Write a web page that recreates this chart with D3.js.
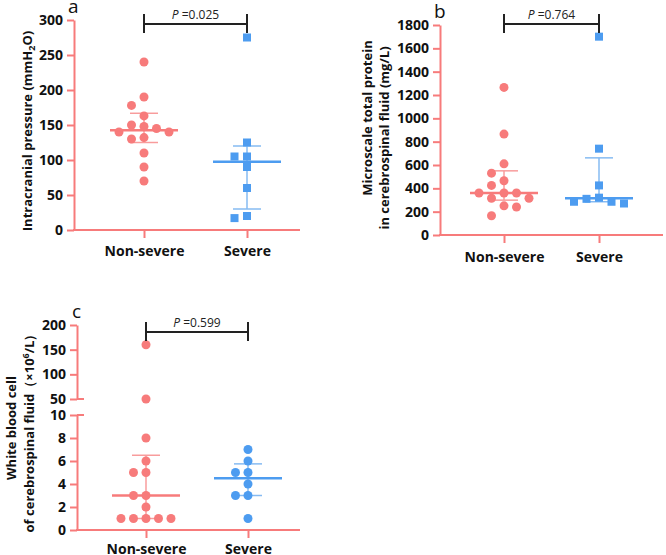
<!DOCTYPE html>
<html>
<head>
<meta charset="utf-8">
<script src="https://cdn.jsdelivr.net/npm/d3@7"></script>
<style>
  body { margin: 0; background: #fff; }
  text { font-family: "Open Sans", "Noto Sans", sans-serif; }
</style>
</head>
<body>
<div id="container"></div>
<script>
/* DATA */
const groups = ["Non-severe", "Severe"];

// a: intracranial pressure (mmH2O)
const icpNonSevere = [240, 190, 178, 163, 150, 148, 145, 140, 140, 132, 130, 110, 90, 70];
const icpSevere = [275, 125, 105, 105, 90, 60, 20, 17];
const icpTicks = [0, 50, 100, 150, 200, 250, 300];

// b: microscale total protein in CSF (mg/L)
const proteinNonSevere = [1265, 865, 610, 530, 465, 425, 360, 360, 360, 315, 315, 250, 240, 165];
const proteinSevere = [1700, 740, 425, 320, 310, 285, 285, 270];
const proteinTicks = [0, 200, 400, 600, 800, 1000, 1200, 1400, 1600, 1800];

// c: white blood cell of CSF (x10^6/L), broken axis
const wbcNonSevere = [160, 50, 8, 6, 5, 5, 3, 3, 2, 1, 1, 1, 1, 1];
const wbcSevere = [7, 6, 5, 5, 4, 3, 3, 1];
const wbcTicksLow = [0, 2, 4, 6, 8, 10];
const wbcTicksHigh = [50, 100, 150, 200];

const pValues = ["0.025", "0.764", "0.599"];

/* STYLE */
const pink = "#f77b7b", pinkLight = "#f89c9c";
const blue = "#4d9cf0", blueLight = "#86bbf2";

const svg = d3.select("#container").append("svg")
  .attr("width", 666)
  .attr("height", 555);

// GraphPad style quartiles ((n+1)p)
function quart(values, p) {
  const s = values.slice().sort((a, b) => a - b);
  const pos = (s.length + 1) * p - 1;
  const lo = Math.floor(pos), hi = Math.ceil(pos);
  return s[lo] + (s[hi] - s[lo]) * (pos - lo);
}

// simple column scatter layout
function swarm(values, yFn) {
  const step = 12.5, minDist = 10;
  const placed = [];
  values.slice().sort((a, b) => b - a).forEach(v => {
    const y = yFn(v);
    for (let k = 0; k < 12; k++) {
      const off = k === 0 ? 0 : (k % 2 ? -1 : 1) * Math.ceil(k / 2) * step;
      const hit = placed.some(p => Math.hypot(p.dx - off, p.y - y) < minDist);
      if (!hit) { placed.push({ v, y, dx: off }); break; }
    }
  });
  return placed;
}

function styleAxis(g) {
  g.select(".domain").attr("stroke", pink).attr("stroke-width", 2);
  g.selectAll(".tick line").attr("stroke", pink).attr("stroke-width", 2);
  g.selectAll(".tick text")
    .attr("fill", "#111")
    .attr("font-size", 14)
    .attr("font-weight", "bold");
}

function drawPanel(cfg) {
  const g = svg.append("g");
  const xScale = d3.scalePoint().domain(groups).range(cfg.catRange);

  // y axis
  cfg.yAxes.forEach(ax => {
    const ag = g.append("g")
      .attr("transform", `translate(${cfg.x0},0)`)
      .call(d3.axisLeft(ax.scale).tickValues(ax.ticks).tickFormat(d3.format("d"))
        .tickSize(7).tickSizeOuter(0).tickPadding(4))
      .call(styleAxis);
    if (ax.cap != null) {
      ag.append("line")
        .attr("x1", 0).attr("x2", 7)
        .attr("y1", ax.scale(ax.cap)).attr("y2", ax.scale(ax.cap))
        .attr("stroke", pink).attr("stroke-width", 2);
    }
  });

  // x axis
  const xg = g.append("g")
    .attr("transform", `translate(0,${cfg.yBase})`)
    .call(d3.axisBottom(xScale).tickSize(8).tickSizeOuter(0).tickPadding(cfg.labelPad))
    .call(styleAxis);
  xg.select(".domain").remove();
  xg.append("line")
    .attr("x1", cfg.x0 - 1).attr("x2", cfg.x1)
    .attr("stroke", pink).attr("stroke-width", 2);

  // groups
  const sets = [
    { name: groups[0], values: cfg.nonSevere, color: pink, light: pinkLight, shape: "circle" },
    { name: groups[1], values: cfg.severe, color: blue, light: blueLight, shape: cfg.severeShape }
  ];
  sets.forEach(s => {
    const cx = xScale(s.name);
    const med = quart(s.values, 0.5), q1 = quart(s.values, 0.25), q3 = quart(s.values, 0.75);
    const eb = g.append("g");
    eb.append("line").attr("x1", cx).attr("x2", cx)
      .attr("y1", cfg.yFn(q1)).attr("y2", cfg.yFn(q3))
      .attr("stroke", s.light).attr("stroke-width", 1.5);
    [q1, q3].forEach(q => eb.append("line")
      .attr("x1", cx - 14).attr("x2", cx + 14)
      .attr("y1", cfg.yFn(q)).attr("y2", cfg.yFn(q))
      .attr("stroke", s.light).attr("stroke-width", 1.5));

    const pts = swarm(s.values, cfg.yFn);
    if (s.shape === "circle") {
      g.selectAll(null).data(pts).join("circle")
        .attr("cx", d => cx + d.dx).attr("cy", d => d.y)
        .attr("r", 4.5).attr("fill", s.color);
    } else {
      g.selectAll(null).data(pts).join("rect")
        .attr("x", d => cx + d.dx - 4).attr("y", d => d.y - 4)
        .attr("width", 8).attr("height", 8).attr("fill", s.color);
    }
    g.append("line")
      .attr("x1", cx - 34).attr("x2", cx + 34)
      .attr("y1", cfg.yFn(med)).attr("y2", cfg.yFn(med))
      .attr("stroke", s.color).attr("stroke-width", 2.5);
  });

  // significance bracket
  const xa = xScale(groups[0]), xb = xScale(groups[1]);
  const sg = g.append("g").attr("stroke", "#222").attr("stroke-width", 2);
  sg.append("line").attr("x1", xa).attr("x2", xb).attr("y1", cfg.barY).attr("y2", cfg.barY);
  [xa, xb].forEach(x => sg.append("line")
    .attr("x1", x).attr("x2", x)
    .attr("y1", cfg.barY - 10).attr("y2", cfg.barY + 9));
  const pt = g.append("text")
    .attr("x", (xa + xb) / 2).attr("y", cfg.barY - 5)
    .attr("text-anchor", "middle").attr("font-size", 12).attr("fill", "#222");
  pt.append("tspan").attr("font-style", "italic").text("P");
  pt.append("tspan").text(" =" + cfg.p);

  // panel letter
  g.append("text")
    .attr("x", cfg.letterPos[0]).attr("y", cfg.letterPos[1])
    .attr("font-size", 19).attr("fill", "#111").text(cfg.letter);

  // y title
  cfg.title(g);
}

/* PANEL A */
const yA = d3.scaleLinear().domain([0, 300]).range([230, 20]);
drawPanel({
  x0: 74, x1: 300, yBase: 230, catRange: [144, 247], labelPad: 8,
  yFn: yA, yAxes: [{ scale: yA, ticks: icpTicks }],
  nonSevere: icpNonSevere, severe: icpSevere, severeShape: "square",
  barY: 24, p: pValues[0], letter: "a", letterPos: [68, 13],
  title: g => {
    const t = g.append("text")
      .attr("transform", "translate(27,131) rotate(-90)")
      .attr("dy", "0.35em").attr("text-anchor", "middle")
      .attr("font-size", 13).attr("font-weight", "bold").attr("fill", "#111");
    t.append("tspan").text("Intracranial pressure (mmH");
    t.append("tspan").attr("font-size", 9).attr("dy", 3).text("2");
    t.append("tspan").attr("dy", -3).text("O)");
  }
});

/* PANEL B */
const yB = d3.scaleLinear().domain([0, 1800]).range([235, 25]);
drawPanel({
  x0: 440, x1: 663, yBase: 235, catRange: [504, 599], labelPad: 9,
  yFn: yB, yAxes: [{ scale: yB, ticks: proteinTicks }],
  nonSevere: proteinNonSevere, severe: proteinSevere, severeShape: "square",
  barY: 24, p: pValues[1], letter: "b", letterPos: [434, 18],
  title: g => {
    [["Microscale total protein", 367, 118], ["in cerebrospinal fluid (mg/L)", 384, 138]].forEach(([s, x, y]) =>
      g.append("text")
        .attr("transform", `translate(${x},${y}) rotate(-90)`)
        .attr("dy", "0.35em").attr("text-anchor", "middle")
        .attr("font-size", 13).attr("font-weight", "bold").attr("fill", "#111")
        .text(s));
  }
});

/* PANEL C */
const yCLow = d3.scaleLinear().domain([0, 10]).range([530, 415]);
const yCHigh = d3.scaleLinear().domain([50, 200]).range([399, 325]);
const yC = v => v > 10 ? yCHigh(v) : yCLow(v);
drawPanel({
  x0: 77, x1: 300, yBase: 530, catRange: [146, 248], labelPad: 6,
  yFn: yC,
  yAxes: [
    { scale: yCLow, ticks: wbcTicksLow, cap: 10 },
    { scale: yCHigh, ticks: wbcTicksHigh, cap: 50 }
  ],
  nonSevere: wbcNonSevere, severe: wbcSevere, severeShape: "circle",
  barY: 332, p: pValues[2], letter: "c", letterPos: [72, 318],
  title: g => {
    g.append("text")
      .attr("transform", "translate(11,428) rotate(-90)")
      .attr("dy", "0.35em").attr("text-anchor", "middle")
      .attr("font-size", 13).attr("font-weight", "bold").attr("fill", "#111")
      .text("White blood cell");
    const t = g.append("text")
      .attr("transform", "translate(29,430) rotate(-90)")
      .attr("dy", "0.35em").attr("text-anchor", "middle")
      .attr("font-size", 13).attr("font-weight", "bold").attr("fill", "#111");
    t.append("tspan").text("of cerebrospinal fluid（×10");
    t.append("tspan").attr("font-size", 9).attr("dy", -5).text("6");
    t.append("tspan").attr("dy", 5).text("/L）");
  }
});
</script>
</body>
</html>
